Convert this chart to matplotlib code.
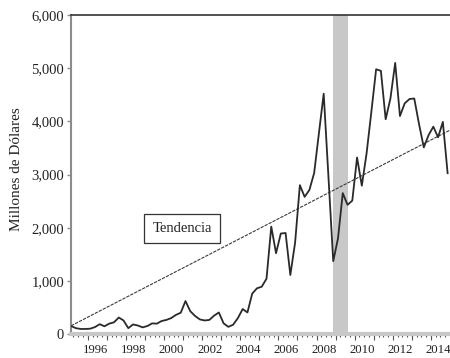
import numpy as np
import matplotlib.pyplot as plt
from matplotlib.ticker import FuncFormatter

plt.rcParams['font.family'] = ['Liberation Serif', 'DejaVu Serif']

# quarterly series, 1995Q1 - 2014Q4 (millones de dolares)
start_year = 1995
valores = [150, 110, 95, 95, 100, 130, 185, 145, 195, 220,
           310, 255, 110, 180, 160, 125, 150, 200, 195, 245,
           265, 300, 360, 400, 620, 430, 340, 275, 255, 265,
           345, 405, 200, 135, 175, 300, 470, 405, 760, 860,
           890, 1040, 2020, 1520, 1890, 1900, 1110, 1720, 2800, 2580,
           2710, 3030, 3780, 4520, 2950, 1370, 1800, 2650, 2430, 2510,
           3320, 2790, 3400, 4180, 4980, 4950, 4040, 4430, 5100, 4100,
           4340, 4420, 4430, 3950, 3510, 3740, 3900, 3700, 3990, 3025]

# linear trend, read at the start of the sample and at the right edge
tendencia_x = [1995.125, 2015.0]
tendencia_y = [155, 3835]

# shaded period
sombra = (2008.875, 2009.625)

year_labels = list(range(1996, 2015, 2))
y_ticks = [0, 1000, 2000, 3000, 4000, 5000, 6000]

t = start_year + 0.125 + 0.25 * np.arange(len(valores))

fig = plt.figure(figsize=(4.5, 3.58), dpi=100)
ax = fig.add_axes([0.158, 0.067, 0.842, 0.891])

ax.axvspan(sombra[0], sombra[1], color='#c8c8c8', lw=0, zorder=0)
ax.plot(tendencia_x, tendencia_y, color='#3a3a3a', lw=0.8,
        linestyle=(0, (3, 1)), zorder=2)
ax.plot(t, valores, color='#2a2a2a', lw=1.3, zorder=3)

ax.set_xlim(1995.125, 2015.0)
ax.set_ylim(0, 6000)

# spines
ax.spines['right'].set_visible(False)
ax.spines['top'].set_color('#333333')
ax.spines['top'].set_linewidth(1.2)
ax.spines['left'].set_color('#8c8c8c')
ax.spines['left'].set_linewidth(1.5)
ax.spines['bottom'].set_color('#c8c8c8')
ax.spines['bottom'].set_linewidth(3)

# y axis
ax.set_yticks(y_ticks)
ax.yaxis.set_major_formatter(FuncFormatter(lambda v, p: f'{int(v):,}'))
ax.tick_params(axis='y', direction='out', length=3, width=1, color='#8c8c8c',
               labelsize=10.5, labelcolor='#222222', pad=2)
ax.set_ylabel('Millones de Dólares', fontsize=11, color='#222222')
ax.yaxis.set_label_coords(-0.128, 0.517)

# x axis: labels centred on the year, quarter ticks, longer year ticks
ax.set_xticks([y + 0.4 for y in year_labels])
ax.set_xticklabels([str(y) for y in year_labels])
ax.set_xticks(np.arange(1995.25, 2015.0, 0.25), minor=True)
ax.tick_params(axis='x', which='major', length=0, labelsize=9.2,
               labelcolor='#222222', pad=7.5)
ax.tick_params(axis='x', which='minor', direction='out', length=2.5,
               width=0.8, color='#555555')
sec = ax.secondary_xaxis('bottom')
sec.set_xticks(range(1996, 2015))
sec.set_xticklabels([])
sec.tick_params(length=4.5, width=0.8, color='#555555', direction='out')
sec.spines['bottom'].set_visible(False)

ax.text(2000.95, 1985, 'Tendencia', fontsize=10.5, color='#222222',
        ha='center', va='center',
        bbox=dict(boxstyle='square,pad=0.55', facecolor='white',
                  edgecolor='#333333', linewidth=0.9))

fig.savefig('out.png', dpi=100)
